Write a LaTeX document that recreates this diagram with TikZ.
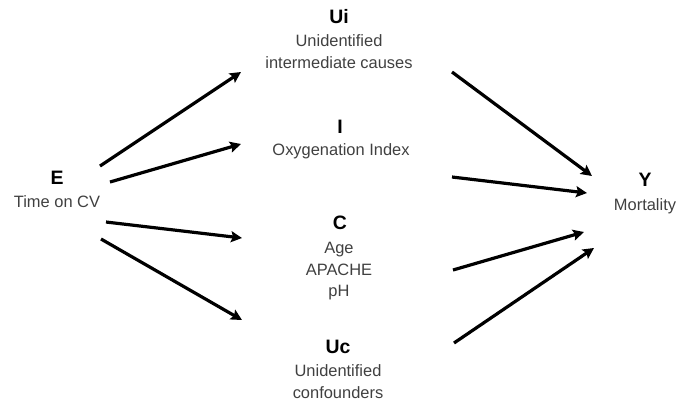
\documentclass[tikz,border=0pt]{standalone}
\usepackage{fontspec}
\setmainfont{Liberation Sans}
\usepackage{xcolor}
\definecolor{descgray}{RGB}{64, 64, 64}
\usetikzlibrary{arrows.meta,positioning}

\begin{document}
\begin{tikzpicture}[
    x=1bp, y=-1bp,
    varname/.style={
        anchor=base,
        inner sep=0pt,
        font=\fontsize{19.5}{22}\selectfont\bfseries
    },
    vardesc/.style={
        anchor=base,
        inner sep=0pt,
        align=center,
        text=descgray,
        font=\fontsize{16.5}{21.5}\selectfont
    },
    arrow/.style={-{Stealth[length=11bp,width=11bp,inset=2bp]},line width=3.2bp,black}
]
    \useasboundingbox (0,0) rectangle (678,405);

    % Variables (descriptions placed on their last line)
    \node[varname] (E) at (57,184) {E};
    \node[vardesc] (Edesc) at (57,207) {Time on CV};
    \node[varname] (Ui) at (339,23) {Ui};
    \node[vardesc] (Uidesc) at (339,68) {Unidentified\\intermediate causes};
    \node[varname] (I) at (340,133) {I};
    \node[vardesc] (Idesc) at (341,155) {Oxygenation Index};
    \node[varname] (C) at (340,229) {C};
    \node[vardesc] (Cdesc) at (339,296.5) {Age\\APACHE\\pH};
    \node[varname] (Uc) at (338,353) {Uc};
    \node[vardesc] (Ucdesc) at (338,398) {Unidentified\\confounders};
    \node[varname] (Y) at (645,186) {Y};
    \node[vardesc] (Ydesc) at (645,210) {Mortality};

    % Arrow ends
    \coordinate (e-ui) at (100,166);
    \coordinate (e-i) at (110,182);
    \coordinate (e-c) at (106,222);
    \coordinate (e-uc) at (101,239);
    \coordinate (ui-e) at (241,72);
    \coordinate (i-e) at (241,144);
    \coordinate (c-e) at (242,238);
    \coordinate (uc-e) at (242,320);
    \coordinate (ui-y) at (452,72);
    \coordinate (i-y) at (452,177);
    \coordinate (c-y) at (453,270);
    \coordinate (uc-y) at (454,343);
    \coordinate (y-ui) at (592,176);
    \coordinate (y-i) at (587,193);
    \coordinate (y-c) at (584,232);
    \coordinate (y-uc) at (594,248);

    % Arrows
    \draw[arrow] (e-ui) -- (ui-e);
    \draw[arrow] (e-i) -- (i-e);
    \draw[arrow] (e-c) -- (c-e);
    \draw[arrow] (e-uc) -- (uc-e);
    \draw[arrow] (ui-y) -- (y-ui);
    \draw[arrow] (i-y) -- (y-i);
    \draw[arrow] (c-y) -- (y-c);
    \draw[arrow] (uc-y) -- (y-uc);
\end{tikzpicture}
\end{document}
